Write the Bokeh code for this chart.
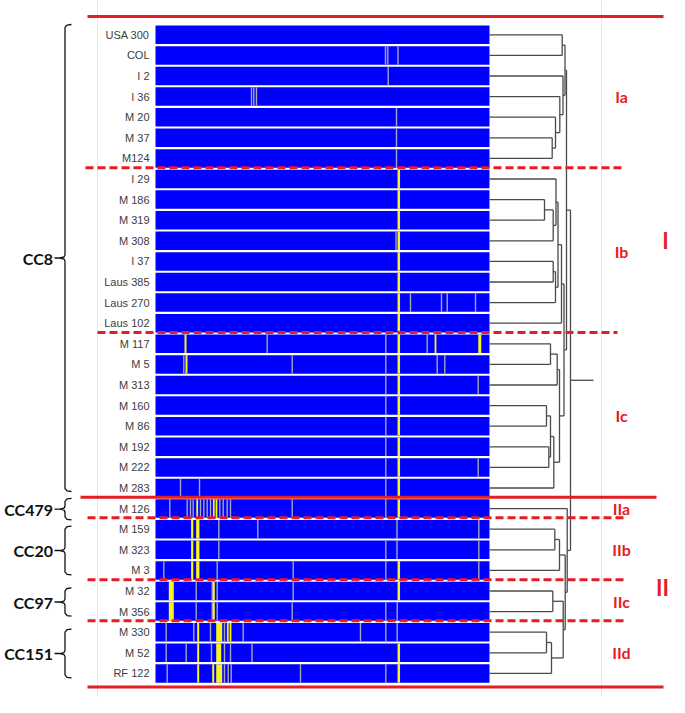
from bokeh.plotting import figure
from bokeh.models import Range1d, Span
from bokeh.core.properties import value
from bokeh.embed import file_html
from bokeh.resources import INLINE

# ---------------- data ----------------
strains = ["USA 300", "COL", "I 2", "I 36", "M 20", "M 37", "M124",
           "I 29", "M 186", "M 319", "M 308", "I 37", "Laus 385", "Laus 270", "Laus 102",
           "M 117", "M 5", "M 313", "M 160", "M 86", "M 192", "M 222", "M 283",
           "M 126", "M 159", "M 323", "M 3", "M 32", "M 356", "M 330", "M 52", "RF 122"]

clusters = ["Ia", "Ib", "Ic", "IIa", "IIb", "IIc", "IId"]
cluster_sizes = [7, 8, 8, 1, 3, 2, 3]
major_clusters = ["I", "II"]
major_sizes = [23, 9]
cc_labels = ["CC8", "CC479", "CC20", "CC97", "CC151"]
cc_sizes = [23, 1, 3, 2, 3]

# SNP positions along the alignment (0-334); grey = other allele, yellow = variant
grey_snps = {
    "COL": [230, 232.3, 242.5],
    "I 2": [232.7],
    "I 36": [96, 98.3, 101],
    "M 20": [241], "M 37": [241], "M124": [241],
    "M 308": [240.5],
    "Laus 270": [255, 286, 291.7, 320],
    "M 117": [111.7, 230.3, 271.7],
    "M 5": [28.3, 136.7, 230.3, 281.7, 289.3],
    "M 313": [230.3, 322.7],
    "M 160": [230.3], "M 86": [230.3], "M 192": [230.3],
    "M 222": [230.3, 322.7],
    "M 283": [25, 44, 230.3],
    "M 126": [14.3, 31.7, 35, 37.7, 45, 48.3, 51.7, 55, 64.3, 67.7, 71.7, 75, 136.7, 230.3],
    "M 159": [63.3, 102.3, 241.5, 323.3],
    "M 323": [63.3, 230.3, 241.5, 323.3],
    "M 3": [8.3, 61.7, 137.7, 230.3, 323.3],
    "M 32": [40.7, 56.7, 61.7, 137.7],
    "M 356": [40.7, 56.7, 61.7, 136.7, 230.3, 241.7],
    "M 330": [10.7, 38.3, 55, 69, 87.7, 205, 230.3, 241.7],
    "M 52": [10.7, 30.7, 56, 69, 75, 96.5],
    "RF 122": [11.7, 69, 72.7, 75.7, 145, 230.3],
}
yellow_snps = {  # (position, width)
    "I 29": [(243.3, 2.5)], "M 186": [(243.3, 2.5)], "M 319": [(243.3, 2.5)],
    "M 308": [(243.3, 2.5)], "I 37": [(243.3, 2.5)], "Laus 385": [(243.3, 2.5)],
    "Laus 270": [(243.3, 2.5)], "Laus 102": [(243.3, 2.5)],
    "M 117": [(30, 2), (243.3, 2.5), (280, 1.8), (324.3, 3)],
    "M 5": [(31, 2), (243.3, 2.5)],
    "M 313": [(243.3, 2.5)], "M 160": [(243.3, 2.5)], "M 86": [(243.3, 2.5)],
    "M 192": [(243.3, 2.5)], "M 222": [(243.3, 2.5)], "M 283": [(243.3, 2.5)],
    "M 126": [(41.7, 1.8), (58.3, 1.8), (61, 1.8), (243.3, 2.5)],
    "M 159": [(36.7, 2.2), (42.3, 3.3)],
    "M 323": [(36.7, 2.2), (42.3, 3.3)],
    "M 3": [(36.7, 2.2), (42.3, 3.3), (243.3, 2.5)],
    "M 32": [(15.8, 5), (58.3, 2), (243.3, 2.5)],
    "M 356": [(15.8, 5), (58.3, 2)],
    "M 330": [(42.7, 2), (63.7, 6), (72.3, 1.8), (75, 1.8)],
    "M 52": [(42.7, 2), (63.2, 5), (243.3, 2.5)],
    "RF 122": [(42.7, 2), (57.7, 2), (63.7, 6), (243.3, 2.5)],
}
PANEL_LEN = 334

# UPGMA-like tree: (node, child a, child b, merge distance)
dendro_merges = [
    ("a", 0, 1, 72.7), ("b", 5, 6, 62.7), ("c", 4, "b", 66), ("d", 3, "c", 70.3),
    ("e", 2, "d", 73.5), ("Ia", "a", "e", 75.5),
    ("f", 8, 9, 55), ("g", "f", 10, 63.7), ("h", 7, "g", 66.5), ("i", 11, 12, 63.7),
    ("j", "i", 13, 66), ("k", "h", "j", 68.5), ("Ib", "k", 14, 72),
    ("l", 15, 16, 61), ("m", "l", 17, 67.7), ("n", 18, 19, 57), ("o", 20, 21, 59.3),
    ("p", "n", "o", 61), ("q", "p", 22, 64.3), ("Ic", "m", "q", 70),
    ("IbIc", "Ib", "Ic", 74.5), ("I", "Ia", "IbIc", 77),
    ("r", 24, 25, 65.3), ("IIb", "r", 26, 70), ("IIc", 27, 28, 63.3),
    ("s", 29, 30, 57), ("IId", "s", 31, 62), ("t", "IIc", "IId", 73.7),
    ("u", "IIb", "t", 75.7), ("II", 23, "u", 77.7),
    ("root", "I", "II", 81),
]
root_stub = 104

# ---------------- layout helpers ----------------
W, H = 669, 697
X0 = 155.0      # picture x of alignment start
ROW_TOP = 24.0  # picture y of first row
ROW_H = 20.6

def px(pic_x):
    return pic_x - X0

def py(pic_y):
    return (pic_y - ROW_TOP) / ROW_H

def ry(pix):
    return pix / ROW_H

p = figure(width=W, height=H,
           x_range=Range1d(px(0), px(W)),
           y_range=Range1d(py(H), py(0)),
           output_backend="svg", toolbar_location=None,
           x_axis_location=None, y_axis_location=None, min_border=0)
p.grid.visible = False
p.outline_line_color = None
p.background_fill_color = "white"

for gx in (97, 601):
    s = Span(location=px(gx), dimension="height", line_color="#e6e6e6", line_width=1, level="underlay")
    p.add_layout(s)

n = len(strains)
rows_y = [i + 0.5 for i in range(n)]

# blue rows
p.rect(x=[PANEL_LEN / 2] * n, y=rows_y, width=PANEL_LEN, height=0.9,
       fill_color="#0000ff", line_color=None)

# SNP marks
gx_, gy_ = [], []
for i, s in enumerate(strains):
    for pos in grey_snps.get(s, []):
        gx_.append(pos); gy_.append(i + 0.5)
p.rect(x=gx_, y=gy_, width=1.4, height=0.9, fill_color="#a4a4bc", line_color=None)
yx_, yy_, yw_ = [], [], []
for i, s in enumerate(strains):
    for pos, w in yellow_snps.get(s, []):
        yx_.append(pos); yy_.append(i + 0.5); yw_.append(w)
p.rect(x=yx_, y=yy_, width=yw_, height=0.9, fill_color="#f8f51c", line_color=None)

# dendrogram
node_y, node_x = {}, {}
for i in range(n):
    node_y[i] = i + 0.5
    node_x[i] = PANEL_LEN
xs, ys = [], []
for name, a, b, d in dendro_merges:
    xm = PANEL_LEN + d
    for c in (a, b):
        xs.append([node_x[c], xm]); ys.append([node_y[c], node_y[c]])
    xs.append([xm, xm]); ys.append([node_y[a], node_y[b]])
    node_x[name] = xm
    node_y[name] = (node_y[a] + node_y[b]) / 2
xs.append([node_x["root"], PANEL_LEN + root_stub]); ys.append([node_y["root"], node_y["root"]])
p.multi_line(xs=xs, ys=ys, line_color="#4a4a4a", line_width=1.3)

# red separators
RED = "#e41e25"
bounds = []
acc = 0
for sz in cluster_sizes:
    acc += sz
    bounds.append(acc)
major_bounds = []
acc = 0
for sz in major_sizes:
    acc += sz
    major_bounds.append(acc)
dash_b = [b for b in bounds[:-1] if b not in major_bounds]
dash_x0 = {7: 85, 15: 97}
dash_x1 = {7: 622, 15: 617}
p.segment(x0=[px(dash_x0.get(b, 87)) for b in dash_b], y0=[b - 0.05 for b in dash_b],
          x1=[px(dash_x1.get(b, 623)) for b in dash_b], y1=[b - 0.05 for b in dash_b],
          line_color=RED, line_width=3, line_dash="8 4")
solid_y = [0 - ry(8)] + [major_bounds[0] - 0.05] + [n + ry(3.3)]
p.segment(x0=[px(87), px(80), px(87)], y0=solid_y,
          x1=[px(663), px(656), px(663)], y1=solid_y,
          line_color=RED, line_width=3)

# row labels
p.text(x=[px(149)] * n, y=rows_y, text=strains, text_font=value("Liberation Sans"),
       text_font_size="11px", text_align="right", text_baseline="middle", text_color="#3d3d3d")

# sub-cluster labels
starts = [0] + bounds[:-1]
sub_y = [(s0 + e) / 2 for s0, e in zip(starts, bounds)]
p.text(x=[px(621)] * len(clusters), y=sub_y, text=clusters, text_font=value("Lato"),
       text_font_style="bold", text_font_size="16px", text_align="center",
       text_baseline="middle", text_color=RED)
mstarts = [0] + major_bounds[:-1]
maj_y = [(mstarts[0] + major_bounds[0]) / 2 - 1.0, (mstarts[1] + major_bounds[1]) / 2 - 0.15]
p.text(x=[px(665), px(662)], y=maj_y, text=major_clusters, text_font=value("Lato"),
       text_font_style="bold", text_font_size="22px", text_align="center",
       text_baseline="middle", text_color=RED)

# clonal complex braces
bx, by, dx, dy, ly = [], [], [], [], []
acc = 0
for sz in cc_sizes:
    s0, e = acc, acc + sz
    acc = e
    if sz == 1:
        top, bot = s0 + 0.0, e + 0.05
    elif s0 == 0:
        top, bot = s0 + 0.0, e - 0.33
    else:
        top, bot = s0 + 0.35, e - 0.28
    mid = (top + bot) / 2
    bx.append([px(71), px(66.5), px(64.5), px(64.5), px(63.5), px(59.5),
               px(63.5), px(64.5), px(64.5), px(66.5), px(71)])
    by.append([top, top + ry(0.6), top + ry(3), mid - ry(3), mid - ry(1), mid,
               mid + ry(1), mid + ry(3), bot - ry(3), bot - ry(0.6), bot])
    dx.append([px(54), px(59.5)]); dy.append([mid, mid])
    ly.append(mid)
p.multi_line(xs=bx, ys=by, line_color="#111111", line_width=1.3)
p.multi_line(xs=dx, ys=dy, line_color="#111111", line_width=1.3)
p.text(x=[px(52.5)] * len(cc_labels), y=ly, text=cc_labels, text_font=value("Lato"),
       text_font_style="bold", text_font_size="16px", text_align="right",
       text_baseline="middle", text_color="#111111")

open("out.html", "w").write(file_html(p, INLINE))
